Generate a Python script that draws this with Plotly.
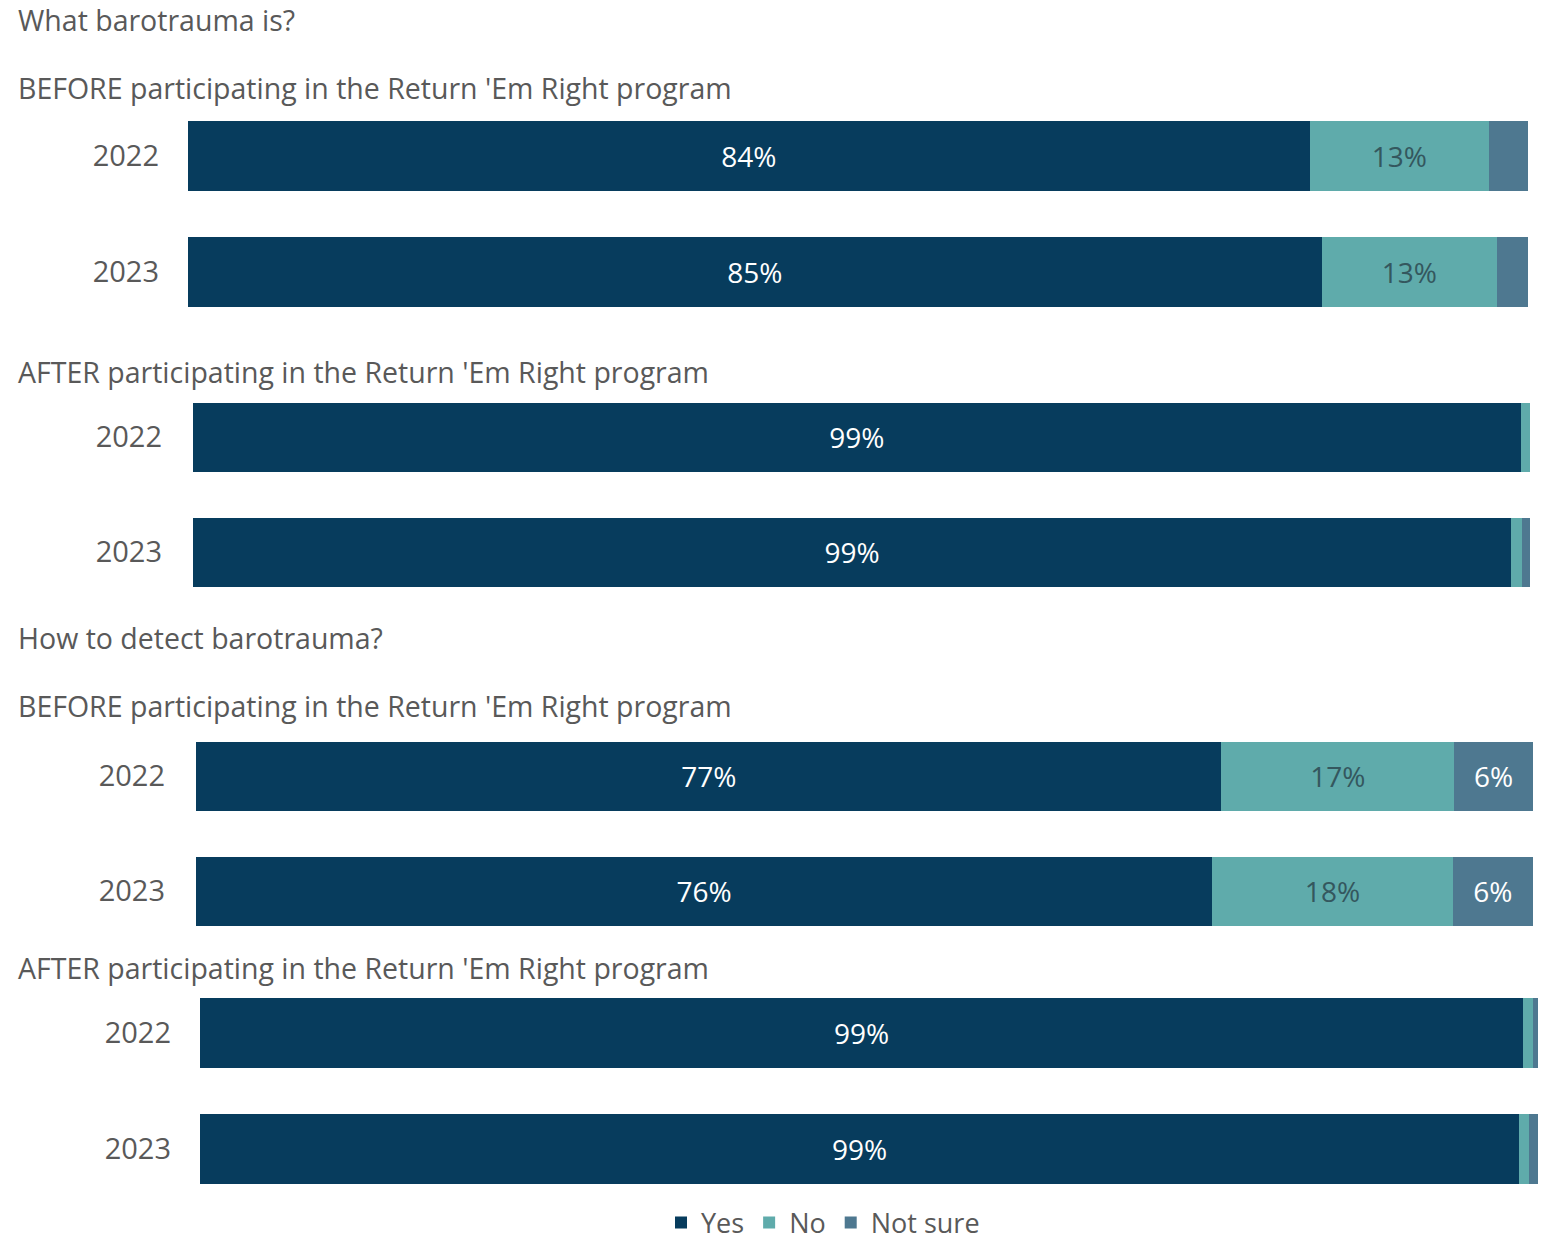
import plotly.graph_objects as go

years = ["2022", "2023"]
series_names = ["Yes", "No", "Not sure"]
colors = ["#073C5D", "#5FABAB", "#4E7890"]
label_colors = ["#FFFFFF", "#34575E", "#FFFFFF"]

# panels: What barotrauma is? (before / after), How to detect (before / after)
what_before_yes = [83.7, 84.6]
what_before_no = [13.4, 13.1]
what_before_ns = [2.9, 2.3]

what_after_yes = [99.3, 98.6]
what_after_no = [0.7, 0.8]
what_after_ns = [0.0, 0.6]

detect_before_yes = [76.7, 76.0]
detect_before_no = [17.4, 18.0]
detect_before_ns = [5.9, 6.0]

detect_after_yes = [98.9, 98.6]
detect_after_no = [0.7, 0.7]
detect_after_ns = [0.4, 0.7]

headers = [
    "What barotrauma is?",
    "BEFORE participating in the Return 'Em Right program",
    "AFTER participating in the Return 'Em Right program",
    "How to detect barotrauma?",
    "BEFORE participating in the Return 'Em Right program",
    "AFTER participating in the Return 'Em Right program",
]

W, H = 1547, 1240
FONT = "Open Sans"
GRAY = "#595959"

panels = [
    [what_before_yes, what_before_no, what_before_ns],
    [what_after_yes, what_after_no, what_after_ns],
    [detect_before_yes, detect_before_no, detect_before_ns],
    [detect_after_yes, detect_after_no, detect_after_ns],
]
# pixel layout: (x_left, x_right, y_top, y_bottom, label standoff)
geom = [
    (188, 1528, 98, 330, 28),
    (193, 1530, 379.5, 609.5, 30),
    (196, 1533, 718.5, 948.5, 30),
    (200, 1538, 975, 1207, 28),
]

fig = go.Figure()
layout = {}
for p, (vals, g) in enumerate(zip(panels, geom)):
    xl, xr, yt, yb, so = g
    sfx = "" if p == 0 else str(p + 1)
    for s, name in enumerate(series_names):
        v = vals[s]
        txt = [f"{round(x)}%" if x >= 5 else "" for x in v]
        fig.add_trace(go.Bar(
            x=v, y=years, orientation="h", name=name,
            marker=dict(color=colors[s], line=dict(width=0)),
            text=txt, textposition="inside", insidetextanchor="middle",
            textfont=dict(family=FONT, size=28, color=label_colors[s]),
            textangle=0,
            showlegend=(p == 0), legendgroup=name,
            xaxis="x" + sfx, yaxis="y" + sfx, hoverinfo="skip",
        ))
    layout["xaxis" + sfx] = dict(
        domain=[xl / W, xr / W], range=[0, 100], visible=False,
        anchor="y" + sfx, fixedrange=True, automargin=False,
    )
    layout["yaxis" + sfx] = dict(
        domain=[1 - yb / H, 1 - yt / H], anchor="x" + sfx,
        type="category", autorange="reversed", automargin=False,
        showgrid=False, showline=False, zeroline=False, ticks="",
        ticklabelstandoff=so, fixedrange=True,
        tickfont=dict(family=FONT, size=29, color=GRAY),
    )

header_y = [20, 88, 372, 638, 706, 968]
annotations = []
for t, yy in zip(headers, header_y):
    annotations.append(dict(
        text=t, x=16 / W, y=1 - yy / H, xref="paper", yref="paper",
        xanchor="left", yanchor="middle", showarrow=False,
        font=dict(family=FONT, size=28.5, color=GRAY),
    ))

fig.update_layout(
    **layout,
    barmode="stack", bargap=0.4,
    width=W, height=H,
    margin=dict(l=0, r=0, t=0, b=0, autoexpand=False),
    paper_bgcolor="white", plot_bgcolor="white",
    annotations=annotations,
    showlegend=True,
    legend=dict(
        orientation="h", x=0.532, xanchor="center", y=1 - 1223 / H, yanchor="middle",
        font=dict(family=FONT, size=27, color=GRAY),
        itemwidth=30, traceorder="normal",
    ),
    uniformtext=dict(minsize=10),
)

fig.write_html("out.html", config={"displayModeBar": False},
               post_script="document.body.style.margin='0';")
